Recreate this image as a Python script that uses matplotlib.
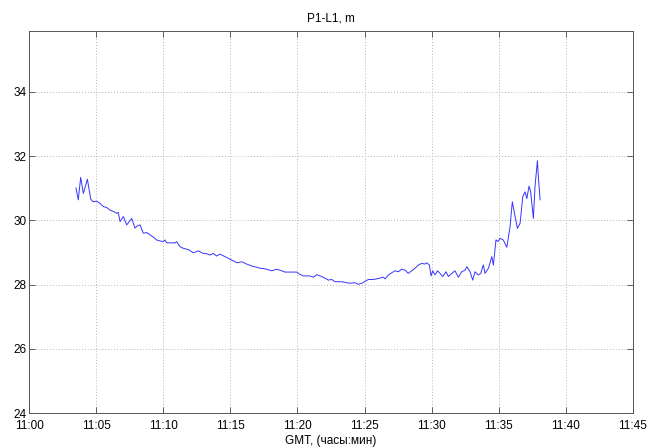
import matplotlib.pyplot as plt
from matplotlib.ticker import FuncFormatter

# minutes after 11:00 GMT
minutes = [3.50, 3.67, 3.85, 4.05, 4.35, 4.60, 4.79, 5.04, 5.29, 5.54, 5.79, 6.04,
           6.29, 6.53, 6.65, 6.78, 7.03, 7.28, 7.45, 7.65, 7.90, 8.05, 8.27, 8.52,
           8.77, 9.02, 9.26, 9.51, 9.76, 10.00, 10.13, 10.26, 10.43, 10.63, 10.88,
           11.00, 11.25, 11.50, 11.87, 12.24, 12.62, 12.99, 13.25, 13.49, 13.73,
           13.98, 14.23, 14.61, 14.98, 15.22, 15.48, 15.85, 16.22, 16.59, 16.97,
           17.21, 17.46, 17.71, 18.08, 18.46, 18.83, 19.08, 19.57, 19.95, 20.14,
           20.44, 20.94, 21.19, 21.44, 21.81, 22.31, 22.55, 22.80, 23.30, 23.67,
           23.92, 24.29, 24.54, 24.79, 25.04, 25.28, 25.66, 26.03, 26.40, 26.53,
           26.78, 27.03, 27.27, 27.52, 27.77, 28.02, 28.26, 28.51, 28.76, 29.01,
           29.26, 29.51, 29.63, 29.83, 29.96, 30.08, 30.25, 30.43, 30.63, 30.83,
           31.07, 31.25, 31.50, 31.74, 31.99, 32.24, 32.49, 32.62, 32.86, 33.06,
           33.23, 33.48, 33.66, 33.85, 33.98, 34.23, 34.48, 34.60, 34.79, 34.93,
           35.10, 35.34, 35.60, 35.84, 36.01, 36.22, 36.39, 36.59, 36.79, 36.96,
           37.09, 37.26, 37.38, 37.58, 37.70, 37.88, 37.95, 38.08]

# P1-L1, m
p1_l1 = [31.01, 30.64, 31.34, 30.84, 31.28, 30.66, 30.58, 30.60, 30.53, 30.43, 30.40, 30.32,
         30.28, 30.22, 30.25, 29.96, 30.12, 29.86, 29.95, 30.06, 29.76, 29.82, 29.86, 29.60,
         29.62, 29.55, 29.48, 29.39, 29.36, 29.34, 29.39, 29.30, 29.30, 29.30, 29.30,
         29.34, 29.18, 29.13, 29.09, 28.99, 29.05, 28.97, 28.96, 28.92, 28.97,
         28.89, 28.95, 28.87, 28.79, 28.74, 28.68, 28.71, 28.64, 28.58, 28.54,
         28.51, 28.50, 28.48, 28.43, 28.48, 28.43, 28.39, 28.39, 28.39, 28.33,
         28.27, 28.27, 28.23, 28.31, 28.25, 28.14, 28.16, 28.09, 28.09, 28.06,
         28.04, 28.06, 28.01, 28.04, 28.10, 28.16, 28.16, 28.19, 28.23, 28.18,
         28.30, 28.37, 28.43, 28.40, 28.48, 28.45, 28.35, 28.43, 28.51, 28.61,
         28.66, 28.64, 28.68, 28.61, 28.27, 28.43, 28.30, 28.43, 28.35, 28.25,
         28.40, 28.25, 28.35, 28.43, 28.23, 28.40, 28.45, 28.56, 28.40, 28.14,
         28.40, 28.30, 28.35, 28.61, 28.35, 28.51, 28.87, 28.61, 29.39, 29.34,
         29.44, 29.39, 29.16, 29.80, 30.58, 30.12, 29.75, 29.91, 30.74, 30.89,
         30.68, 31.07, 30.89, 30.06, 31.05, 31.86, 31.36, 30.64]

x_ticks = list(range(0, 46, 5))
y_ticks = [24, 26, 28, 30, 32, 34]

plt.rcParams['font.family'] = ['Liberation Sans', 'DejaVu Sans']
plt.rcParams['font.size'] = 8.5

fig = plt.figure(figsize=(6.49, 4.48), dpi=100)
ax = fig.add_axes([0.0447, 0.0781, 0.9306, 0.8527])

ax.plot(minutes, p1_l1, color='#3535ff', linewidth=0.7)

ax.set_xlim(0, 45)
ax.set_ylim(24, 35.9)
ax.set_xticks(x_ticks)
ax.set_yticks(y_ticks)
ax.xaxis.set_major_formatter(FuncFormatter(lambda v, pos: '11:%02d' % int(round(v))))

ax.grid(True, linestyle=(0, (1, 2)), color='#b4b4b4', linewidth=0.7)
ax.tick_params(direction='in', top=True, right=True, length=4, width=0.6,
               colors='#444444', labelcolor='black')
ax.tick_params(axis='x', pad=5)
ax.tick_params(axis='y', pad=2)
for s in ax.spines.values():
    s.set_color('#555555')
    s.set_linewidth(0.7)

ax.set_title('P1-L1, m', fontsize=8.5, pad=7)
ax.set_xlabel('GMT, (часы:мин)', fontsize=8.5, labelpad=2)

fig.savefig('out.png', dpi=100)
